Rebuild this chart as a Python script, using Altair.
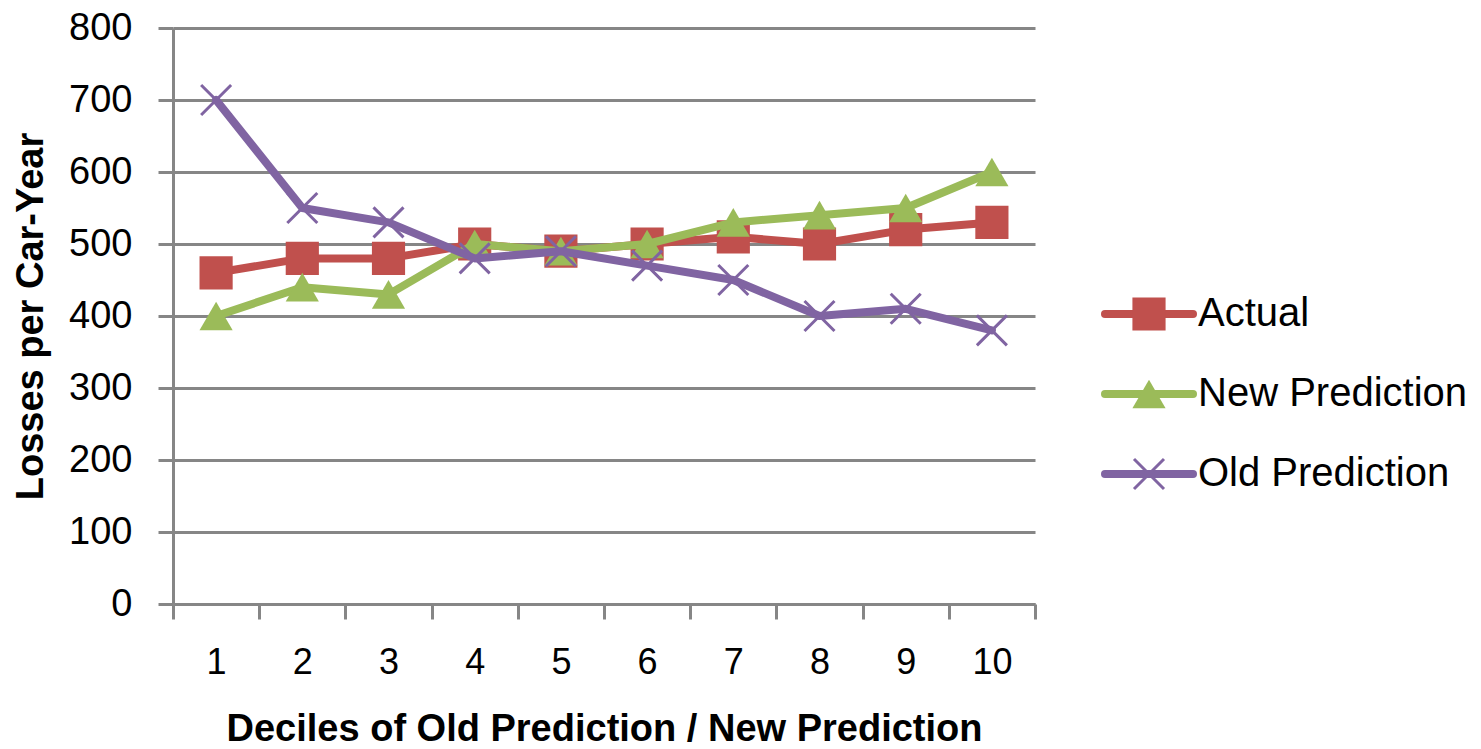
import altair as alt
import pandas as pd

# Average losses per car-year by decile
deciles = list(range(1, 11))
actual = [460, 480, 480, 500, 490, 500, 510, 500, 520, 530]
new_prediction = [400, 440, 430, 500, 490, 500, 530, 540, 550, 600]
old_prediction = [700, 550, 530, 480, 490, 470, 450, 400, 410, 380]

series_names = ["Actual", "New Prediction", "Old Prediction"]
series_colors = ["#C0504D", "#9BBB59", "#8064A2"]
series_shapes = ["square", "triangle-up", "M-1,-1L1,1M-1,1L1,-1"]
y_ticks = [0, 100, 200, 300, 400, 500, 600, 700, 800]

rows = []
for name, vals in zip(series_names, [actual, new_prediction, old_prediction]):
    for d, v in zip(deciles, vals):
        rows.append({"decile": d, "losses": v, "series": name})
df = pd.DataFrame(rows)

GRID = "#868686"
FONT = "Liberation Sans"

color_enc = alt.Color(
    "series:N",
    scale=alt.Scale(domain=series_names, range=series_colors),
    legend=None,
)

x_enc = alt.X(
    "decile:O",
    bandPosition=0.5,
    scale=alt.Scale(type="band", paddingInner=0, paddingOuter=0),
    axis=alt.Axis(
        title="Deciles of Old Prediction / New Prediction",
        titleFont=FONT, titleFontSize=38, titleFontWeight="bold", titleColor="black",
        titlePadding=30,
        labelFont=FONT, labelFontSize=36, labelColor="black", labelAngle=0,
        labelPadding=26,
        tickBand="extent", tickSize=15, tickColor=GRID, tickWidth=3,
        domainColor=GRID, domainWidth=3, grid=False,
    ),
)

y_enc = alt.Y(
    "losses:Q",
    scale=alt.Scale(domain=[0, 800], nice=False),
    axis=alt.Axis(
        title="Losses per Car-Year",
        titleFont=FONT, titleFontSize=38, titleFontWeight="bold", titleColor="black",
        titlePadding=18,
        labelFont=FONT, labelFontSize=38, labelColor="black", labelPadding=26,
        values=y_ticks,
        tickSize=15, tickColor=GRID, tickWidth=3,
        domainColor=GRID, domainWidth=3,
        grid=True, gridColor=GRID, gridWidth=3,
    ),
)

base = alt.Chart(df).encode(x=x_enc, y=y_enc, color=color_enc)

layers = []
for name, shape in zip(series_names, series_shapes):
    sub = base.transform_filter(alt.datum.series == name)
    layers.append(sub.mark_line(strokeWidth=8, strokeCap="round", strokeJoin="round"))
    if shape.startswith("M"):
        layers.append(sub.mark_point(shape=shape, size=900, filled=False,
                                     strokeWidth=3, opacity=1))
    else:
        layers.append(sub.mark_point(shape=shape, size=1100, filled=True, opacity=1))

main = alt.layer(*layers).properties(width=862, height=576)

# Legend panel: one row per series with a line swatch, marker and name
leg_df = pd.DataFrame({"series": series_names})
leg_y = alt.Y("series:N", scale=alt.Scale(type="point", domain=series_names,
                                          range=[286, 446], padding=0), axis=None)
leg_plain = alt.Chart(leg_df).encode(y=leg_y)
leg_base = leg_plain.encode(color=color_enc)

leg_layers = []
for name, shape in zip(series_names, series_shapes):
    sub = leg_base.transform_filter(alt.datum.series == name)
    leg_layers.append(sub.mark_rule(strokeWidth=8, strokeCap="round").encode(
        x=alt.value(4), x2=alt.value(92)))
    if shape.startswith("M"):
        leg_layers.append(sub.mark_point(shape=shape, size=900, filled=False,
                                         strokeWidth=3, opacity=1).encode(x=alt.value(48)))
    else:
        leg_layers.append(sub.mark_point(shape=shape, size=1100, filled=True,
                                         opacity=1).encode(x=alt.value(48)))
leg_layers.append(leg_plain.mark_text(align="left", baseline="middle", font=FONT,
                                      fontSize=40, color="black").encode(
    x=alt.value(97), text="series:N"))

legend = alt.layer(*leg_layers).properties(width=370, height=576)

chart = alt.hconcat(main, legend, spacing=64).properties(
    padding={"left": 12, "top": 9, "right": 2, "bottom": 2},
    background="white",
).configure_view(stroke=None)

chart.save("out.html", embed_options={"renderer": "svg", "actions": False})
